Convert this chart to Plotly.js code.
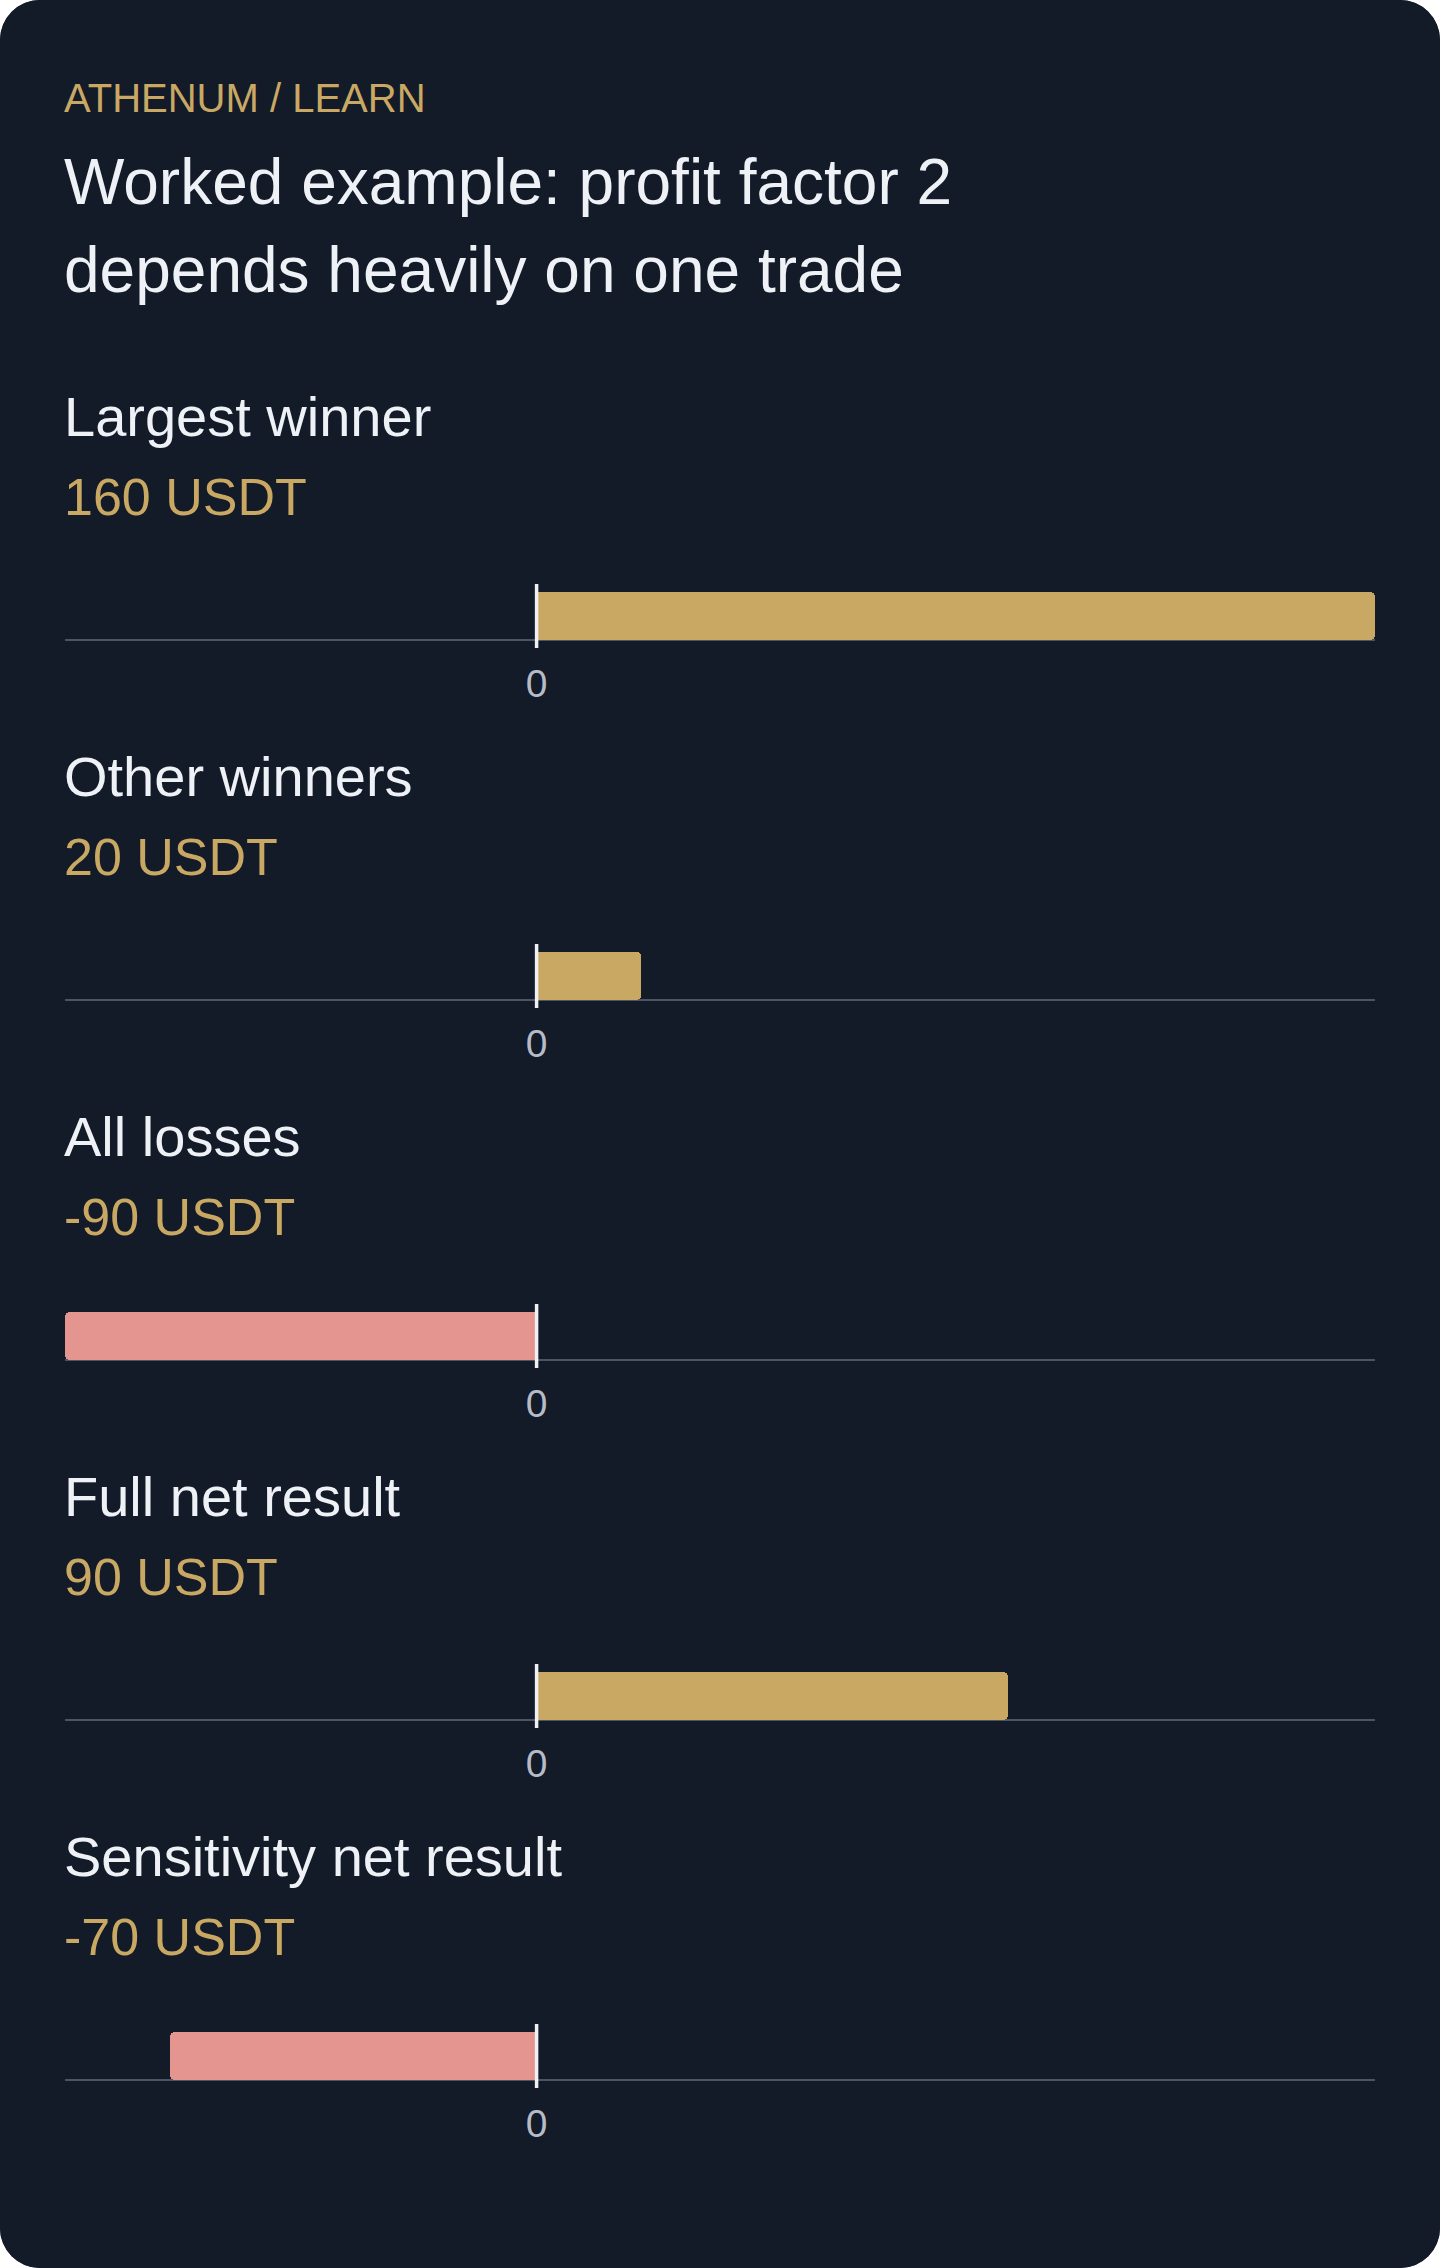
<!DOCTYPE html>
<html>
<head>
<meta charset="utf-8">
<script src="https://cdn.plot.ly/plotly-3.0.1.min.js"></script>
<style>
  html, body { margin: 0; padding: 0; background: #ffffff; }
  #card {
    width: 1440px;
    height: 2268px;
    border-radius: 40px;
    overflow: hidden;
    background: #131a28;
  }
</style>
</head>
<body>
<div id="card"><div id="chart"></div></div>
<script>
// values
const rowLabels = ['Largest winner', 'Other winners', 'All losses', 'Full net result', 'Sensitivity net result'];
const rowValues = [160, 20, -90, 90, -70];
const valueUnit = 'USDT';
const zeroTickVals = [0];
const zeroTickText = ['0'];

const W = 1440;
const H = 2268;
const FONT = 'Liberation Sans, Arial, Helvetica, sans-serif';
const GOLD = '#c9a864';
const PINK = '#e4958f';
const INK = '#eef1f6';
const BG = '#131a28';

// pixel helpers -> paper fractions
const px = (x) => x / W;
const py = (y) => 1 - y / H;

const LEFT = 65;
const RIGHT = 1375;
const TEXT_LEFT = 62; // annotations carry a little padding
const ROW_STEP = 360;

const traces = [];
const shapes = [];
const annotations = [
  {
    text: 'ATHENUM / LEARN', x: px(TEXT_LEFT), y: py(98), xanchor: 'left', yanchor: 'middle',
    font: { family: FONT, size: 40, color: GOLD },
  },
  {
    text: 'Worked example: profit factor 2', x: px(TEXT_LEFT), y: py(182), xanchor: 'left', yanchor: 'middle',
    font: { family: FONT, size: 64, color: INK },
  },
  {
    text: 'depends heavily on one trade', x: px(TEXT_LEFT), y: py(270), xanchor: 'left', yanchor: 'middle',
    font: { family: FONT, size: 64, color: INK },
  },
];

const layout = {
  width: W,
  height: H,
  margin: { l: 0, r: 0, t: 0, b: 0 },
  paper_bgcolor: BG,
  plot_bgcolor: BG,
  showlegend: false,
  bargap: 0,
  font: { family: FONT, color: INK },
};

rowLabels.forEach((label, i) => {
  const n = i === 0 ? '' : String(i + 1);
  const off = i * ROW_STEP;
  const v = rowValues[i];

  traces.push({
    type: 'bar',
    orientation: 'h',
    x: [v],
    y: [24],
    width: [48],
    xaxis: `x${n}`,
    yaxis: `y${n}`,
    marker: { color: v >= 0 ? GOLD : PINK, cornerradius: 5, line: { width: 0 } },
    hoverinfo: 'skip',
  });

  layout[`xaxis${n}`] = {
    domain: [px(LEFT), px(RIGHT)],
    anchor: `y${n}`,
    range: [-90, 160],
    showgrid: false,
    zeroline: false,
    showline: false,
    ticks: '',
    tickvals: zeroTickVals,
    ticktext: zeroTickText,
    ticklabelstandoff: 9,
    tickfont: { family: FONT, size: 39, color: '#b5bcc8' },
    fixedrange: true,
  };
  layout[`yaxis${n}`] = {
    domain: [py(648 + off), py(584 + off)],
    anchor: `x${n}`,
    range: [-8, 56],
    showgrid: false,
    showline: false,
    showticklabels: false,
    ticks: '',
    zeroline: true,
    zerolinecolor: '#4b5563',
    zerolinewidth: 2,
    fixedrange: true,
  };

  // the zero marker sits on top of the bar
  shapes.push({
    type: 'line',
    xref: `x${n}`,
    yref: `y${n} domain`,
    x0: 0, x1: 0, y0: 0, y1: 1,
    layer: 'above',
    line: { color: '#eef0f4', width: 3.5 },
  });

  annotations.push({
    text: label, x: px(TEXT_LEFT), y: py(416 + off), xanchor: 'left', yanchor: 'middle',
    font: { family: FONT, size: 56, color: INK },
  });
  annotations.push({
    text: `${v} ${valueUnit}`, x: px(TEXT_LEFT), y: py(497 + off), xanchor: 'left', yanchor: 'middle',
    font: { family: FONT, size: 52, color: GOLD },
  });
});

layout.shapes = shapes;
layout.annotations = annotations.map((a) => ({ ...a, xref: 'paper', yref: 'paper', showarrow: false }));

Plotly.newPlot('chart', traces, layout, { displayModeBar: false, staticPlot: true });
</script>
</body>
</html>
